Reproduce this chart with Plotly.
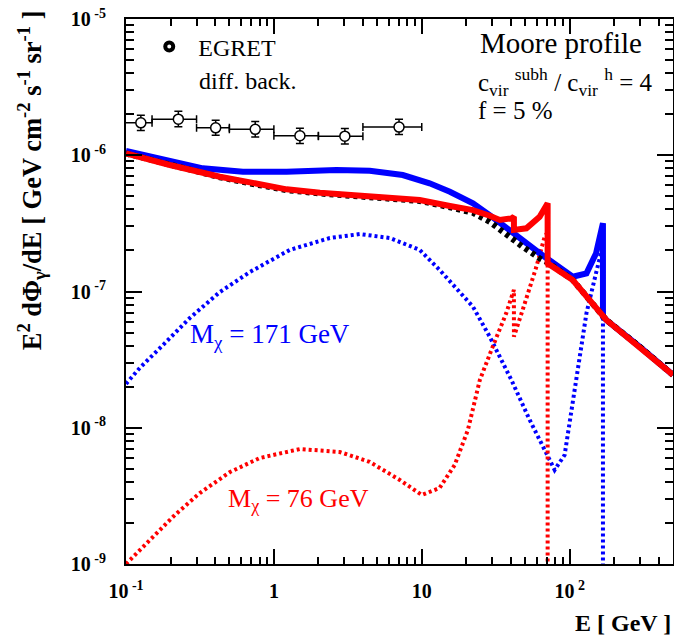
import plotly.graph_objects as go

# ---------------- data ----------------
# EGRET diffuse background
egret_E = [0.126, 0.226, 0.404, 0.748, 1.50, 3.02, 7.02]
egret_E_lo = [0.07, 0.15, 0.3, 0.5, 1.0, 2.0, 4.0]
egret_E_hi = [0.15, 0.3, 0.5, 1.0, 2.0, 4.0, 10.0]
egret_flux = [1.73e-6, 1.84e-6, 1.59e-6, 1.55e-6, 1.39e-6, 1.38e-6, 1.61e-6]
egret_err_plus = [0.24e-6, 0.26e-6, 0.22e-6, 0.22e-6, 0.19e-6, 0.19e-6, 0.23e-6]
egret_err_minus = [0.21e-6, 0.22e-6, 0.19e-6, 0.19e-6, 0.17e-6, 0.17e-6, 0.19e-6]

# background (black dotted)
bkg_E = [0.1, 0.198, 0.431, 0.724, 1.22, 2.05, 3.42, 5.77, 9.69, 15.5, 22.2,
         28.8, 37.3, 48.1, 62.7, 71.3, 105, 177, 297, 500]
bkg_flux = [1.03e-6, 8.45e-7, 6.9e-7, 6.15e-7, 5.55e-7, 5.24e-7, 5.04e-7, 4.9e-7,
            4.62e-7, 4.15e-7, 3.78e-7, 3.25e-7, 2.6e-7, 2.13e-7, 1.75e-7, 1.63e-7,
            1.215e-7, 6.18e-8, 3.94e-8, 2.44e-8]

# total, M = 76 GeV (red solid)
red_tot_E = [0.1, 0.198, 0.431, 0.724, 1.22, 2.05, 3.42, 5.77, 9.69, 15.5, 22.2,
             28.8, 33.7, 40.4, 42.0, 42.0, 51, 62.7, 71, 71, 105, 177, 297, 500]
red_tot_flux = [1.033e-6, 8.48e-7, 6.96e-7, 6.22e-7, 5.62e-7, 5.31e-7, 5.11e-7,
                4.97e-7, 4.69e-7, 4.24e-7, 3.96e-7, 3.6e-7, 3.35e-7, 3.44e-7, 3.54e-7,
                2.83e-7, 2.91e-7, 3.54e-7, 4.44e-7, 1.61e-7, 1.215e-7, 6.18e-8,
                3.94e-8, 2.44e-8]

# total, M = 171 GeV (blue solid)
blue_tot_E = [0.1, 0.198, 0.331, 0.617, 1.22, 2.65, 4.45, 7.44, 11.3, 15.5, 22.2,
              28.8, 37.3, 48.1, 62.7, 105, 130, 151, 168, 168, 177, 297, 500]
blue_tot_flux = [1.074e-6, 8.97e-7, 8.02e-7, 7.57e-7, 7.57e-7, 7.80e-7, 7.70e-7,
                 7.16e-7, 6.22e-7, 5.40e-7, 4.44e-7, 3.64e-7, 2.91e-7, 2.39e-7,
                 1.91e-7, 1.285e-7, 1.36e-7, 1.91e-7, 3.17e-7, 6.53e-8, 6.18e-8,
                 3.94e-8, 2.44e-8]

# dark matter signal, M = 171 GeV (blue dotted)
blue_dm_E = [0.1, 0.124, 0.178, 0.270, 0.431, 0.689, 1.28, 2.39, 3.81, 6.08, 9.69,
             13.2, 22.2, 28.8, 40.4, 53.7, 67.8, 79.2, 92.5, 111, 130, 151, 164,
             168, 168]
blue_dm_flux = [2.10e-8, 2.75e-8, 4.05e-8, 6.39e-8, 9.91e-8, 1.39e-7, 2.02e-7,
                2.47e-7, 2.64e-7, 2.47e-7, 2.02e-7, 1.44e-7, 7.73e-8, 4.66e-8,
                2.24e-8, 1.14e-8, 6.87e-9, 4.90e-9, 6.31e-9, 2.24e-8, 6.95e-8,
                1.37e-7, 1.96e-7, 2.19e-7, 5e-10]

# dark matter signal, M = 76 GeV (red dotted)
red_dm_E = [0.1, 0.145, 0.214, 0.316, 0.505, 0.803, 1.50, 2.79, 4.45, 7.10, 10.0,
            13.2, 16.7, 20.5, 24.7, 30.2, 37.3, 42.0, 42.0, 48.1, 59.6, 67.8, 71, 71]
red_dm_flux = [1.0e-9, 1.50e-9, 2.29e-9, 3.32e-9, 4.73e-9, 6.0e-9, 6.98e-9, 6.64e-9,
               5.61e-9, 4.14e-9, 3.21e-9, 3.61e-9, 5.33e-9, 9.62e-9, 2.24e-8,
               3.94e-8, 6.95e-8, 1.03e-7, 4.66e-8, 7.31e-8, 1.52e-7, 2.53e-7,
               2.73e-7, 5e-10]

x_tickvals = [0.1, 1, 10, 100]
x_ticktext = ["10<sup> -1</sup>", "1", "10", "10<sup> 2</sup>"]
y_tickvals = [1e-9, 1e-8, 1e-7, 1e-6, 1e-5]
y_ticktext = ["10<sup> -9</sup>", "10<sup> -8</sup>", "10<sup> -7</sup>",
              "10<sup> -6</sup>", "10<sup> -5</sup>"]
x_minor_vals = [m * d for d in (0.1, 1, 10, 100) for m in range(2, 10)]
y_minor_vals = [m * d for d in (1e-9, 1e-8, 1e-7, 1e-6) for m in range(2, 10)]

BLUE = "#0000ff"
RED = "#ff0000"
SERIF = "Liberation Serif"
X_RANGE = [-1, 2.699]
Y_RANGE = [-9, -5]

fig = go.Figure()

fig.add_trace(go.Scatter(x=blue_dm_E, y=blue_dm_flux, mode="lines",
                         line=dict(color=BLUE, width=4, dash="3px,3px"),
                         showlegend=False))
fig.add_trace(go.Scatter(x=red_dm_E, y=red_dm_flux, mode="lines",
                         line=dict(color=RED, width=4, dash="3px,3px"),
                         showlegend=False))
fig.add_trace(go.Scatter(x=blue_tot_E, y=blue_tot_flux, mode="lines",
                         line=dict(color=BLUE, width=6), showlegend=False))
fig.add_trace(go.Scatter(x=bkg_E, y=bkg_flux, mode="lines",
                         line=dict(color="black", width=6, dash="4px,4px"),
                         showlegend=False))
fig.add_trace(go.Scatter(x=red_tot_E, y=red_tot_flux, mode="lines",
                         line=dict(color=RED, width=6), showlegend=False))

# EGRET points
ex_plus = [h - e for h, e in zip(egret_E_hi, egret_E)]
ex_minus = [e - l for e, l in zip(egret_E, egret_E_lo)]
fig.add_trace(go.Scatter(
    x=egret_E, y=egret_flux, mode="markers",
    marker=dict(symbol="circle", size=10, color="white",
                line=dict(color="black", width=1.5)),
    error_y=dict(type="data", array=egret_err_plus, arrayminus=egret_err_minus,
                 color="black", thickness=1.5, width=4),
    error_x=dict(type="data", array=ex_plus, arrayminus=ex_minus,
                 color="black", thickness=1.5, width=4),
    showlegend=False))

# legend entry
fig.add_trace(go.Scatter(x=[None], y=[None], mode="markers",
                         marker=dict(symbol="circle-open", size=8, color="black",
                                     line=dict(color="black", width=4)),
                         name="\u00a0EGRET", showlegend=True))

# dummy trace for mirrored (top/right) axes
fig.add_trace(go.Scatter(x=[None], y=[None], xaxis="x2", yaxis="y2",
                         showlegend=False, hoverinfo="skip"))

axis_common = dict(
    type="log", showline=True, linecolor="black", linewidth=2,
    ticks="inside", tickwidth=1.5, tickcolor="black",
    showgrid=False, zeroline=False,
    tickfont=dict(family=SERIF, size=20, color="black", weight="bold"),
)

fig.update_layout(
    xaxis=dict(range=X_RANGE, tickmode="array", tickvals=x_tickvals,
               ticktext=x_ticktext, ticklen=15, ticklabelstandoff=8,
               minor=dict(ticks="inside", ticklen=7, tickwidth=1.5,
                          tickcolor="black", tickmode="array",
                          tickvals=x_minor_vals, showgrid=False),
               **axis_common),
    yaxis=dict(range=Y_RANGE, tickmode="array", tickvals=y_tickvals,
               ticktext=y_ticktext, ticklen=16, ticklabelstandoff=14,
               minor=dict(ticks="inside", ticklen=8, tickwidth=1.5,
                          tickcolor="black", tickmode="array",
                          tickvals=y_minor_vals, showgrid=False),
               **axis_common),
    xaxis2=dict(range=X_RANGE, overlaying="x", side="top", anchor="y2",
                tickmode="array", tickvals=x_tickvals, ticklen=15,
                showticklabels=False,
                minor=dict(ticks="inside", ticklen=7, tickwidth=1.5,
                           tickcolor="black", tickmode="array",
                           tickvals=x_minor_vals, showgrid=False),
                **axis_common),
    yaxis2=dict(range=Y_RANGE, overlaying="y", side="right", anchor="x2",
                tickmode="array", tickvals=y_tickvals, ticklen=16,
                showticklabels=False,
                minor=dict(ticks="inside", ticklen=8, tickwidth=1.5,
                           tickcolor="black", tickmode="array",
                           tickvals=y_minor_vals, showgrid=False),
                **axis_common),
)

annos = [
    dict(text="diff. back.", x=0.130, y=0.886, xanchor="left", yanchor="middle",
         font=dict(family=SERIF, size=24, color="black")),
    dict(text="Moore profile", x=0.643, y=0.956, xanchor="left", yanchor="middle",
         font=dict(family=SERIF, size=29, color="black")),
    dict(text="c<sub>vir</sub> <sup>subh</sup> / c<sub>vir</sub> <sup>h</sup> = 4",
         x=0.640, y=0.884, xanchor="left", yanchor="middle",
         font=dict(family=SERIF, size=25, color="black")),
    dict(text="f = 5 %", x=0.640, y=0.833, xanchor="left", yanchor="middle",
         font=dict(family=SERIF, size=25, color="black")),
    dict(text="M<sub>χ</sub> = 171 GeV", x=0.113, y=0.418, xanchor="left",
         yanchor="middle", font=dict(family=SERIF, size=27, color=BLUE)),
    dict(text="M<sub>χ</sub> = 76 GeV", x=0.183, y=0.117, xanchor="left",
         yanchor="middle", font=dict(family=SERIF, size=26, color=RED)),
    dict(text="<b>E<sup>2</sup> dΦ<sub>γ</sub>/dE [ GeV cm<sup>-2</sup> s<sup>-1</sup> sr<sup>-1</sup> ]</b>",
         x=-0.172, y=0.704, xanchor="center", yanchor="middle", textangle=-90,
         font=dict(family=SERIF, size=26.5, color="black")),
    dict(text="<b>E [ GeV ]</b>", x=1.0, y=-0.108, xanchor="right", yanchor="middle",
         font=dict(family=SERIF, size=24, color="black")),
]
for a in annos:
    a.update(xref="paper", yref="paper", showarrow=False)

fig.update_layout(
    width=674, height=643,
    margin=dict(l=126, r=1, t=19, b=79),
    paper_bgcolor="white", plot_bgcolor="white",
    annotations=annos,
    legend=dict(x=0.037, y=0.99, xanchor="left", yanchor="top",
                bgcolor="rgba(0,0,0,0)", itemwidth=36,
                font=dict(family=SERIF, size=24, color="black")),
)

fig.write_html("out.html",
               config={"displayModeBar": False},
               post_script="document.body.style.margin='0px';"
                           "document.body.style.overflow='hidden';")
